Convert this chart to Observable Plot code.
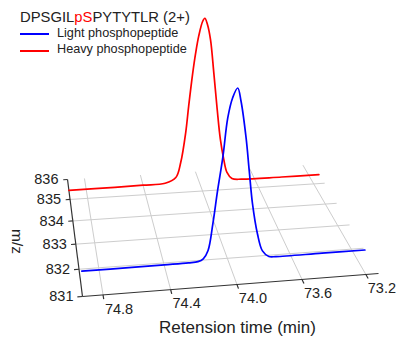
<!DOCTYPE html>
<html>
<head>
<meta charset="utf-8">
<script src="https://cdn.jsdelivr.net/npm/d3@7"></script>
<script src="https://cdn.jsdelivr.net/npm/@observablehq/plot@0.6"></script>
<style>
  html, body { margin: 0; padding: 0; background: #fff; }
  #wrap { position: relative; width: 398px; height: 343px; font-family: "Liberation Sans", Arial, sans-serif; color: #222; }
  #chart { position: absolute; left: 0; top: 0; }
  #title { position: absolute; left: 20px; top: 10.2px; font-size: 14.8px; line-height: 1; white-space: nowrap; }
  .leg { position: absolute; left: 20px; font-size: 12.7px; line-height: 1; white-space: nowrap; }
  .leg .sw { position: absolute; left: 0; width: 29px; height: 1.7px; }
  .leg .tx { position: absolute; left: 37px; top: 0; }
</style>
</head>
<body>
<div id="wrap">
  <div id="chart"></div>
  <div id="title"></div>
</div>
<script>
// ---------------- data ----------------
const titleParts = ["DPSGIL", "pS", "PYTYTLR (2+)"];
const titleColors = ["#222", "#ff0000", "#222"];
const seriesNames = ["Light phosphopeptide", "Heavy phosphopeptide"];
const seriesColors = ["#0000ff", "#ff0000"];
const seriesMz = [831.9, 835.45];

const rtTicks = [74.8, 74.4, 74.0, 73.6, 73.2];
const mzTicks = [831, 832, 833, 834, 835, 836];
const mzGrid = [832, 833, 834, 835];
const rtDomain = [74.92, 73.12];
const mzDomain = [831, 836];
const xLabel = "Retension time (min)";
const zLabel = "m/z";

// light phosphopeptide (blue), relative intensity
const lightRt  = [74.905, 74.60, 74.40, 74.25, 74.19, 74.157, 74.127, 74.097, 74.067, 74.034, 74.003, 73.972, 73.940, 73.919, 73.887, 73.867, 73.846, 73.815, 73.783, 73.742, 73.697, 73.40, 73.12];
const lightInt = [0.3,    0.3,   0.4,   0.5,   0.8,   2.2,    6.8,    22.0,   41.2,   60.3,   82.9,   94.5,   100,    92.2,   70.7,   51.4,   31.9,   14.5,   4.3,    0.8,    0.4,    0.4,   0.4];

// heavy phosphopeptide (red), relative intensity
const heavyRt  = [74.92, 74.60, 74.40, 74.244, 74.168, 74.133, 74.097, 74.076, 74.047, 74.026, 74.004, 73.976, 73.96, 73.942, 73.919, 73.895, 73.871, 73.848, 73.824, 73.80, 73.764, 73.694, 73.40, 73.125];
const heavyInt = [0,     0.1,   0.3,   0.7,    4.0,    13.8,   33.6,   50.8,   72.5,   85.7,   96.9,   106.5,  108.6, 104.8,  94.3,   71.9,   47.9,   27.7,   14.5,   5.3,   1.1,    0.2,    0,     0];

// ---------------- layout (perspective floor) ----------------
const W = 398, Hgt = 343;
const corner00 = [82, 296], corner10 = [378, 273], corner11 = [313, 164], corner01 = [67, 179];
const Kz = 1.829; // px per intensity unit at the front-left corner

function makeHomography(P00, P10, P11, P01) {
  const [x0, y0] = P00, [x1, y1] = P10, [x2, y2] = P11, [x3, y3] = P01;
  const dx1 = x1 - x2, dy1 = y1 - y2, dx2 = x3 - x2, dy2 = y3 - y2;
  const dx3 = x0 - x1 + x2 - x3, dy3 = y0 - y1 + y2 - y3;
  const den = dx1 * dy2 - dx2 * dy1;
  const g = (dx3 * dy2 - dx2 * dy3) / den, h = (dx1 * dy3 - dx3 * dy1) / den;
  const a = x1 - x0 + g * x1, b = x3 - x0 + h * x3, c = x0;
  const d = y1 - y0 + g * y1, e = y3 - y0 + h * y3, f = y0;
  return (u, v) => { const w = g * u + h * v + 1; return [(a * u + b * v + c) / w, (d * u + e * v + f) / w, w]; };
}
const Hm = makeHomography(corner00, corner10, corner11, corner01);
const uScale = d3.scaleLinear().domain(rtDomain).range([0, 1]);
const vScale = d3.scaleLinear().domain(mzDomain).range([0, 1]);
function P(rt, mz, I = 0) {
  const [x, y, w] = Hm(uScale(rt), vScale(mz));
  return [x, y - I * Kz / w];
}

// ---------------- derived tables ----------------
const grid = [
  ...mzGrid.map(m => ({a: P(rtDomain[0], m), b: P(rtDomain[1], m)})),
  ...rtTicks.map(t => ({a: P(t, mzDomain[0]), b: P(t, mzDomain[1])}))
];
const axes = [
  {a: P(rtDomain[0], mzDomain[0]), b: P(rtDomain[0], mzDomain[1])},
  {a: P(rtDomain[0], mzDomain[0]), b: P(rtDomain[1], mzDomain[0])}
];
const ticks = [
  ...mzTicks.map(m => ({a: P(rtDomain[0], m), b: P(rtDomain[0] + 0.03, m)})),
  ...rtTicks.map(t => ({a: P(t, mzDomain[0]), b: P(t, mzDomain[0] - 0.15)}))
];
const mzLabelData = mzTicks.map(m => ({t: String(m), p: P(rtDomain[0], m)}));
const rtLabelData = rtTicks.map(t => ({t: t.toFixed(1), p: P(t, mzDomain[0])}));
const lightData = lightRt.map((rt, i) => ({p: P(rt, seriesMz[0], lightInt[i])}));
const heavyData = heavyRt.map((rt, i) => ({p: P(rt, seriesMz[1], heavyInt[i])}));

const link = (data, opts) => Plot.link(data, {x1: d => d.a[0], y1: d => d.a[1], x2: d => d.b[0], y2: d => d.b[1], ...opts});

const chart = Plot.plot({
  width: W, height: Hgt, margin: 0,
  x: {domain: [0, W], range: [0, W], axis: null},
  y: {domain: [0, Hgt], range: [0, Hgt], axis: null},
  style: {fontFamily: '"Liberation Sans", Arial, sans-serif', background: "#fff", color: "#222"},
  marks: [
    link(grid, {stroke: "#cdcdcd", strokeWidth: 1}),
    link(axes, {stroke: "#333", strokeWidth: 1.2}),
    link(ticks, {stroke: "#333", strokeWidth: 1.2}),
    Plot.text(mzLabelData, {x: d => d.p[0], y: d => d.p[1], text: d => d.t, textAnchor: "end", lineAnchor: "middle", dx: -9, fontSize: 14.5, fill: "#222"}),
    Plot.text(rtLabelData, {x: d => d.p[0], y: d => d.p[1], text: d => d.t, textAnchor: "middle", lineAnchor: "middle", dx: 16, dy: 14, fontSize: 14.5, fill: "#222"}),
    Plot.text([xLabel], {frameAnchor: "bottom", lineAnchor: "middle", dx: 38, dy: -16, fontSize: 17, fill: "#222"}),
    Plot.text([zLabel], {frameAnchor: "left", lineAnchor: "middle", rotate: 90, dx: 16, dy: 57, fontSize: 15.5, fill: "#222"}),
    Plot.line(heavyData, {x: d => d.p[0], y: d => d.p[1], stroke: seriesColors[1], strokeWidth: 1.7, curve: "catmull-rom"}),
    Plot.line(lightData, {x: d => d.p[0], y: d => d.p[1], stroke: seriesColors[0], strokeWidth: 1.7, curve: "catmull-rom"})
  ]
});
document.getElementById("chart").appendChild(chart);

// title with coloured segment
const tt = d3.select("#title");
titleParts.forEach((s, i) => tt.append("span").style("color", titleColors[i]).text(s));

// legend
const legTops = [26.7, 43.2];
const wrap = d3.select("#wrap");
seriesNames.forEach((name, i) => {
  const g = wrap.append("div").attr("class", "leg").style("top", legTops[i] + "px");
  g.append("div").attr("class", "sw").style("top", "6.8px").style("background", seriesColors[i]);
  g.append("div").attr("class", "tx").text(name);
});
</script>
</body>
</html>
